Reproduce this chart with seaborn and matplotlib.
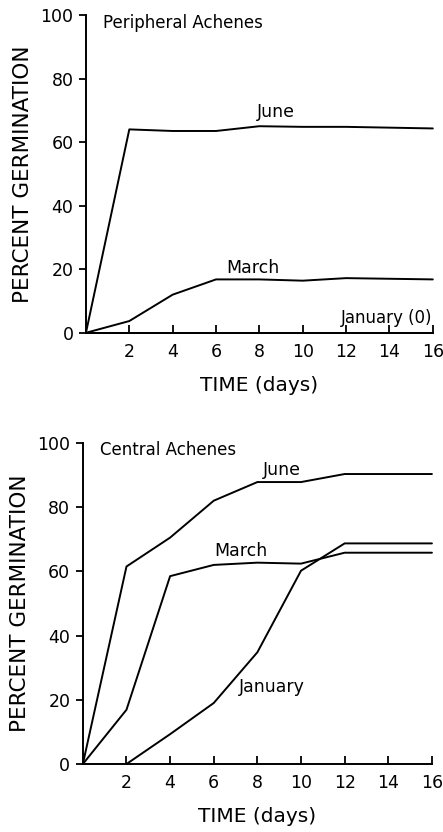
import matplotlib
matplotlib.use("Agg")
import matplotlib.pyplot as plt
import seaborn as sns
import pandas as pd

# ---- data ----
days = [0, 2, 4, 6, 8, 10, 12, 16]

peripheral_june = [0, 64, 63.5, 63.5, 65, 64.8, 64.8, 64.3]
peripheral_march = [0, 3.7, 12, 16.8, 16.8, 16.4, 17.2, 16.8]
peripheral_january_days = [0, 2, 4, 6, 8, 10, 12, 16]
peripheral_january = [0, 0, 0, 0, 0, 0, 0, 0]

central_june = [0, 61.5, 70.5, 82, 87.8, 87.8, 90.3, 90.3]
central_march = [0, 16.9, 58.5, 62, 62.7, 62.4, 65.8, 65.8]
central_january_days = [2, 4, 6, 8, 10, 12, 16]
central_january = [0, 9.3, 19, 34.8, 60.2, 68.7, 68.7]

x_ticks = [2, 4, 6, 8, 10, 12, 14, 16]
x_ticklabels = ["2", "4", "6", "8", "10", "12", "14", "16"]
y_ticks = [0, 20, 40, 60, 80, 100]
y_ticklabels = ["0", "20", "40", "60", "80", "100"]

sns.set_theme(style="ticks")
plt.rcParams["font.family"] = ["DejaVu Sans"]
plt.rcParams["text.color"] = "black"
plt.rcParams["axes.labelcolor"] = "black"
plt.rcParams["xtick.color"] = "black"
plt.rcParams["ytick.color"] = "black"

fig = plt.figure(figsize=(4.43, 8.32), dpi=100)
ax1 = fig.add_axes([0.194, 0.600, 0.783, 0.382])
ax2 = fig.add_axes([0.187, 0.0817, 0.788, 0.386])

def style(ax):
    ax.set_xlim(0, 16)
    ax.set_ylim(0, 100)
    ax.set_xticks(x_ticks)
    ax.set_xticklabels(x_ticklabels)
    ax.set_yticks(y_ticks)
    ax.set_yticklabels(y_ticklabels)
    for s in ["top", "right"]:
        ax.spines[s].set_visible(False)
    for s in ["left", "bottom"]:
        ax.spines[s].set_linewidth(1.4)
        ax.spines[s].set_color("black")
    ax.tick_params(axis="x", direction="in", length=6, width=1.3, labelsize=12.5,
                   pad=7, colors="black")
    ax.tick_params(axis="y", direction="out", length=5, width=1.3, labelsize=12.5,
                   pad=4, colors="black")
    ax.set_xlabel("TIME (days)", fontsize=14.5, labelpad=11, color="black")
    ax.set_ylabel("PERCENT GERMINATION", fontsize=15.5, labelpad=5, color="black")
    ax.set_facecolor("white")

lw = 1.4
df1 = pd.concat([
    pd.DataFrame({"day": days, "pct": peripheral_june, "month": "June"}),
    pd.DataFrame({"day": days, "pct": peripheral_march, "month": "March"}),
    pd.DataFrame({"day": peripheral_january_days, "pct": peripheral_january, "month": "January"}),
])
sns.lineplot(data=df1, x="day", y="pct", units="month", estimator=None,
             color="black", linewidth=lw, ax=ax1, clip_on=False)
style(ax1)
ax1.text(0.8, 97.5, "Peripheral Achenes", fontsize=12, va="center", ha="left", color="black")
ax1.text(8.75, 69.5, "June", fontsize=12.5, va="center", ha="center", color="black")
ax1.text(7.7, 20.4, "March", fontsize=12.5, va="center", ha="center", color="black")
ax1.text(16, 4.7, "January (0)", fontsize=12, va="center", ha="right", color="black")

df2 = pd.concat([
    pd.DataFrame({"day": days, "pct": central_june, "month": "June"}),
    pd.DataFrame({"day": days, "pct": central_march, "month": "March"}),
    pd.DataFrame({"day": central_january_days, "pct": central_january, "month": "January"}),
])
sns.lineplot(data=df2, x="day", y="pct", units="month", estimator=None,
             color="black", linewidth=lw, ax=ax2, clip_on=False)
style(ax2)
ax2.text(0.8, 97.7, "Central Achenes", fontsize=12, va="center", ha="left", color="black")
ax2.text(9.1, 91.5, "June", fontsize=12.5, va="center", ha="center", color="black")
ax2.text(7.25, 66.4, "March", fontsize=12.5, va="center", ha="center", color="black")
ax2.text(8.67, 23.9, "January", fontsize=12.5, va="center", ha="center", color="black")

for ax in (ax1, ax2):
    leg = ax.get_legend()
    if leg is not None:
        leg.remove()

fig.savefig("out.png", dpi=100, facecolor="white")
